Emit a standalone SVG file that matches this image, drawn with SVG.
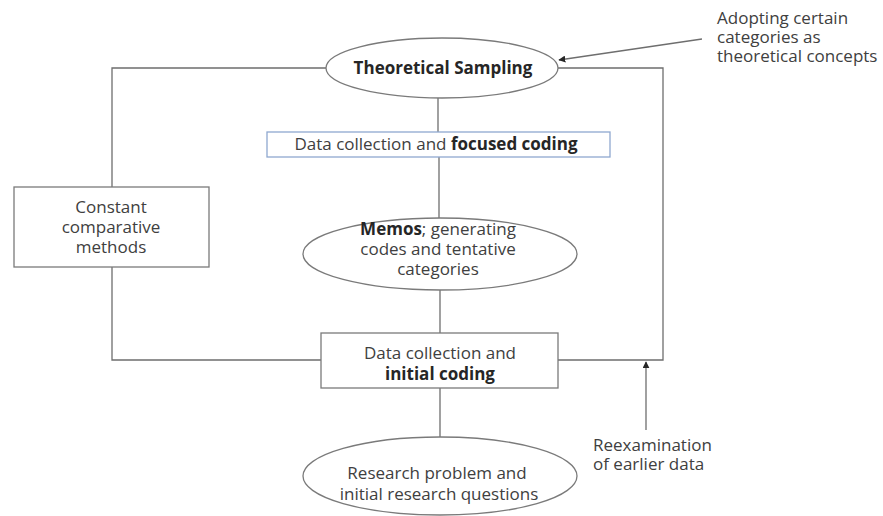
<svg xmlns="http://www.w3.org/2000/svg" width="883" height="516" viewBox="0 0 883 516">
<defs>
<style>
text{font-family:"Open Sans","Liberation Sans",sans-serif;font-size:17px;fill:#404040}
.c{text-anchor:middle}
.b{font-weight:bold;fill:#262626}
.ln{fill:none;stroke:#6e6e6e;stroke-width:1.3}
.sh{fill:#fff;stroke:#7a7a7a;stroke-width:1.3}
</style>
<marker id="ah" viewBox="0 0 10 10" refX="9" refY="5" markerWidth="7" markerHeight="7" orient="auto" markerUnits="userSpaceOnUse">
<path d="M0,0 L10,5 L0,10 z" fill="#262626"/>
</marker>
</defs>
<rect width="883" height="516" fill="#fff"/>
<g id="connectors">
<polyline class="ln" points="326,68 112,68 112,187"/>
<polyline class="ln" points="558,68 663,68 663,360 558,360"/>
<polyline class="ln" points="321,360 112,360 112,267"/>
<line class="ln" x1="438" y1="98" x2="438" y2="132"/>
<line class="ln" x1="439" y1="157" x2="439" y2="218"/>
<line class="ln" x1="440" y1="290" x2="440" y2="333"/>
<line class="ln" x1="440" y1="388" x2="440" y2="437"/>
<line class="ln" x1="702" y1="39" x2="559" y2="60" stroke="#262626" marker-end="url(#ah)"/>
<line class="ln" x1="646" y1="430" x2="646" y2="362" marker-end="url(#ah)"/>
</g>
<g id="theoretical-sampling">
<ellipse class="sh" cx="442" cy="68" rx="116" ry="30"/>
<text class="c b" x="443" y="74">Theoretical Sampling</text>
</g>
<g id="focused-coding">
<rect x="267" y="132" width="343" height="25" fill="#fff" stroke="#8fa8d0" stroke-width="1.3"/>
<text class="c" x="436" y="150">Data collection and <tspan class="b">focused coding</tspan></text>
</g>
<g id="memos">
<ellipse class="sh" cx="440" cy="254" rx="137" ry="36"/>
<text class="c" x="438" y="235"><tspan class="b">Memos</tspan>; generating</text>
<text class="c" x="438" y="255">codes and tentative</text>
<text class="c" x="438" y="275">categories</text>
</g>
<g id="constant-comparative">
<rect class="sh" x="14" y="187" width="195" height="80"/>
<text class="c" x="111" y="213">Constant</text>
<text class="c" x="111" y="233">comparative</text>
<text class="c" x="111" y="253">methods</text>
</g>
<g id="initial-coding">
<rect class="sh" x="321" y="333" width="237" height="55"/>
<text class="c" x="440" y="359">Data collection and</text>
<text class="c b" x="440" y="380">initial coding</text>
</g>
<g id="research-problem">
<ellipse class="sh" cx="440" cy="476" rx="137" ry="39"/>
<text class="c" x="437" y="479">Research problem and</text>
<text class="c" x="439" y="500">initial research questions</text>
</g>
<g id="adopting-label">
<text x="717" y="24">Adopting certain</text>
<text x="717" y="43">categories as</text>
<text x="717" y="62">theoretical concepts</text>
</g>
<g id="reexamination-label">
<text x="593" y="451">Reexamination</text>
<text x="593" y="470">of earlier data</text>
</g>
</svg>
